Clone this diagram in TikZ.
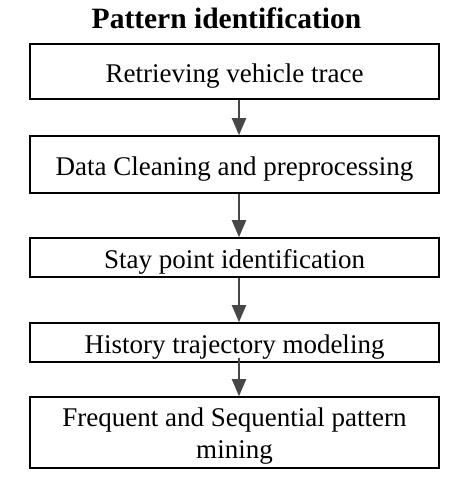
\documentclass[tikz,border=0pt]{standalone}
\usepackage{fontspec}
\setmainfont{Liberation Serif}
\usetikzlibrary{arrows.meta}
\begin{document}
\begin{tikzpicture}[x=1pt,y=1pt,
  stepbox/.style={draw=black,line width=1.6pt,minimum width=409pt,inner sep=0pt,
    font=\fontsize{27}{32}\selectfont,align=center,text height=21pt,text depth=0pt},
  flow/.style={draw=black!72,line width=2pt,-{Triangle[length=17pt,width=14pt]}}]
\useasboundingbox (0,0) rectangle (460,-485);
\node[font=\bfseries\fontsize{29.5}{32}\selectfont,anchor=base] (title) at (226.5,-28) {Pattern identification};
\node[stepbox,minimum height=55pt] (a) at (234.5,-71.5) {Retrieving vehicle trace};
\node[stepbox,minimum height=57pt] (b) at (234.5,-164.5) {Data Cleaning and preprocessing};
\node[stepbox,minimum height=39pt] (c) at (234.5,-257.5) {Stay point identification};
\node[stepbox,minimum height=39pt] (d) at (234.5,-342.5) {History trajectory modeling};
\node[stepbox,minimum height=71pt,text height=51pt,text depth=0pt] (e) at (234.5,-432.5) {Frequent and Sequential pattern\\mining};
\draw[flow] ([xshift=4.5pt]a.south) -- ([xshift=4.5pt]b.north);
\draw[flow] ([xshift=4.5pt]b.south) -- ([xshift=4.5pt]c.north);
\draw[flow] ([xshift=4.5pt]c.south) -- ([xshift=4.5pt]d.north);
\draw[flow] ([xshift=4.5pt,yshift=5pt]d.south) -- ([xshift=4.5pt]e.north);
\end{tikzpicture}
\end{document}
